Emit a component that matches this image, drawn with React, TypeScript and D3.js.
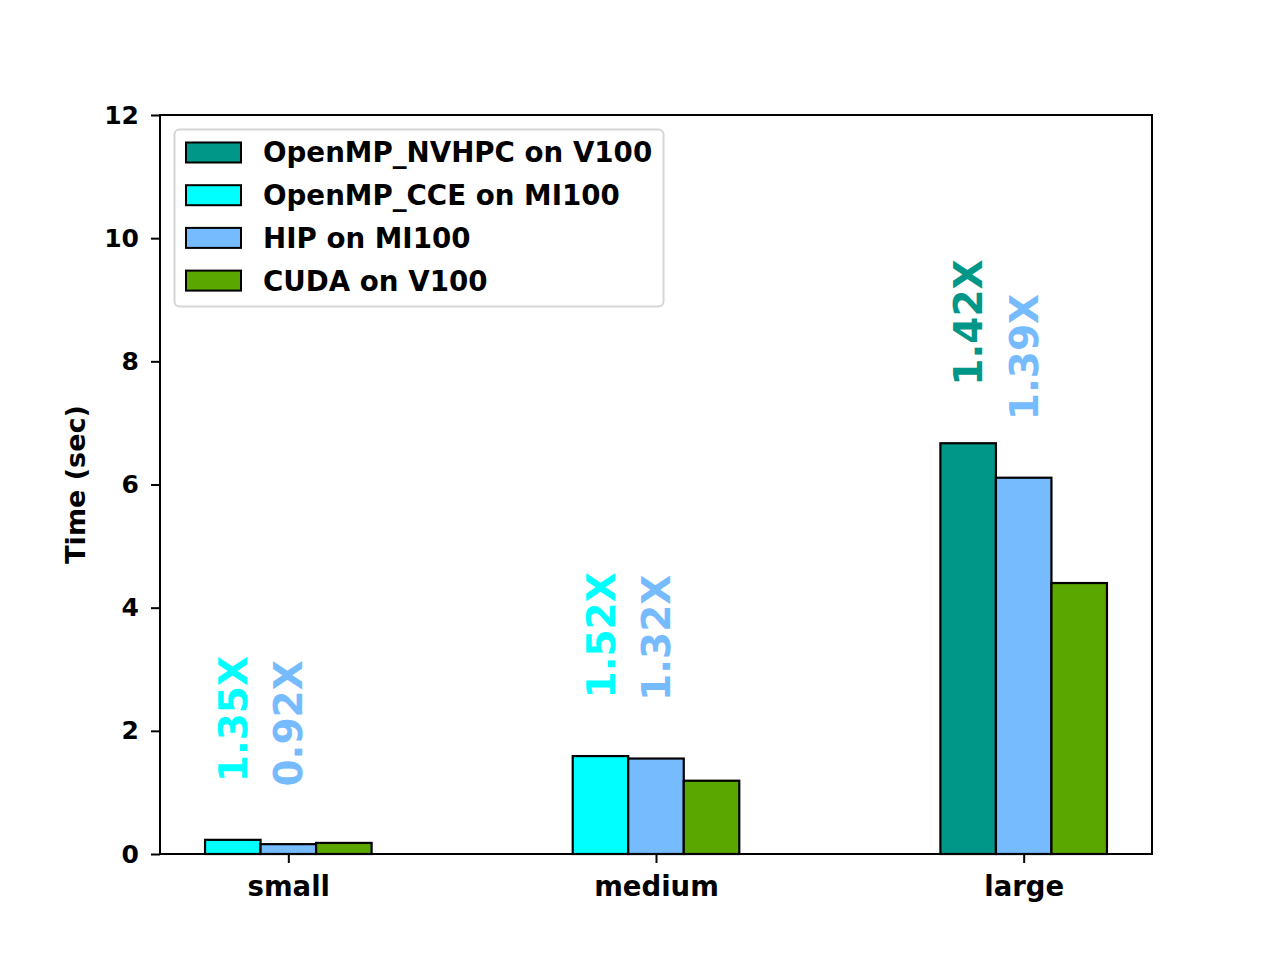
import { useEffect, useRef } from 'react';
import * as d3 from 'd3';

// data
const categories = ['small', 'medium', 'large'];
const seriesNames = [
  'OpenMP_NVHPC on V100',
  'OpenMP_CCE on MI100',
  'HIP on MI100',
  'CUDA on V100',
];
const seriesColors = ['#009688', '#00ffff', '#77bbff', '#5aa700'];

// which series are drawn in each group (index into seriesNames), left to right
const groupSeries = [
  [1, 2, 3],
  [1, 2, 3],
  [0, 2, 3],
];
const groupValues = [
  [0.23, 0.16, 0.18],
  [1.59, 1.55, 1.19],
  [6.67, 6.11, 4.4],
];
// speed-up labels, null where none
const groupLabels = [
  ['1.35X', '0.92X', null],
  ['1.52X', '1.32X', null],
  ['1.42X', '1.39X', null],
];
const yTicks = [0, 2, 4, 6, 8, 10, 12];

const FONT = '"DejaVu Sans", sans-serif';

const App = () => {
  const svgRef = useRef<SVGSVGElement>(null);
  const width = 1280;
  const height = 960;

  useEffect(() => {
    if (!svgRef.current) return;
    const svg = d3.select(svgRef.current);
    svg.selectAll('*').remove();

    const left = 160;
    const right = 1152;
    const top = 115;
    const bottom = 854;
    const barW = 0.151;

    const x = d3.scaleLinear().domain([-0.349, 2.349]).range([left, right]);
    const y = d3.scaleLinear().domain([0, 12]).range([bottom, top]);

    svg.append('rect').attr('width', width).attr('height', height).attr('fill', '#fff');

    // bars
    groupSeries.forEach((ser, gi) => {
      ser.forEach((si, k) => {
        const v = groupValues[gi][k];
        const off = (k - 1) * barW;
        const x0 = x(gi + off - barW / 2);
        const x1 = x(gi + off + barW / 2);
        svg
          .append('rect')
          .attr('x', x0)
          .attr('y', y(v))
          .attr('width', x1 - x0)
          .attr('height', y(0) - y(v))
          .attr('fill', seriesColors[si])
          .attr('stroke', '#000')
          .attr('stroke-width', 2.2);

        const lab = groupLabels[gi][k];
        if (lab) {
          const cx = x(gi + off);
          const cy = y(v + 1) + 4;
          svg
            .append('text')
            .attr('transform', `translate(${cx},${cy}) rotate(-90)`)
            .attr('dy', '0.36em')
            .attr('text-anchor', 'start')
            .attr('font-family', FONT)
            .attr('font-weight', 'bold')
            .attr('font-size', 39)
            .attr('fill', seriesColors[si])
            .text(lab);
        }
      });
    });

    // frame
    svg
      .append('rect')
      .attr('x', left)
      .attr('y', top)
      .attr('width', right - left)
      .attr('height', bottom - top)
      .attr('fill', 'none')
      .attr('stroke', '#000')
      .attr('stroke-width', 2);

    // y axis
    const yAxis = svg
      .append('g')
      .attr('transform', `translate(${left},0)`)
      .call(d3.axisLeft(y).tickValues(yTicks).tickSize(9).tickPadding(12));
    yAxis.select('.domain').remove();
    yAxis.selectAll('line').attr('stroke-width', 2);
    yAxis
      .selectAll('text')
      .attr('font-family', FONT)
      .attr('font-weight', 'bold')
      .attr('font-size', 25)
      .attr('fill', '#000');

    // x axis
    const xAxis = svg
      .append('g')
      .attr('transform', `translate(0,${bottom})`)
      .call(
        d3
          .axisBottom(x)
          .tickValues([0, 1, 2])
          .tickFormat((d) => categories[d as number])
          .tickSize(9)
          .tickPadding(13)
      );
    xAxis.select('.domain').remove();
    xAxis.selectAll('line').attr('stroke-width', 2);
    xAxis
      .selectAll('text')
      .attr('font-family', FONT)
      .attr('font-weight', 'bold')
      .attr('font-size', 27.5)
      .attr('fill', '#000');

    // y label
    svg
      .append('text')
      .attr('transform', `translate(75,${(top + bottom) / 2}) rotate(-90)`)
      .attr('dy', '0.36em')
      .attr('text-anchor', 'middle')
      .attr('font-family', FONT)
      .attr('font-weight', 'bold')
      .attr('font-size', 27)
      .text('Time (sec)');

    // legend
    const lg = svg.append('g');
    lg.append('rect')
      .attr('x', 174.5)
      .attr('y', 129.5)
      .attr('width', 489)
      .attr('height', 177)
      .attr('rx', 5)
      .attr('fill', '#fff')
      .attr('fill-opacity', 0.8)
      .attr('stroke', '#d6d6d6')
      .attr('stroke-width', 2);
    seriesNames.forEach((name, i) => {
      const cy = 152.5 + i * 42.7;
      lg.append('rect')
        .attr('x', 186)
        .attr('y', cy - 10)
        .attr('width', 55)
        .attr('height', 20)
        .attr('fill', seriesColors[i])
        .attr('stroke', '#000')
        .attr('stroke-width', 2);
      lg.append('text')
        .attr('x', 263)
        .attr('y', cy)
        .attr('dy', '0.36em')
        .attr('font-family', FONT)
        .attr('font-weight', 'bold')
        .attr('font-size', 27.7)
        .text(name);
    });
  }, []);

  return (
    <svg
      ref={svgRef}
      width={width}
      height={height}
      style={{ display: 'block', position: 'absolute', left: 0, top: 0 }}
    />
  );
};

export default App;
